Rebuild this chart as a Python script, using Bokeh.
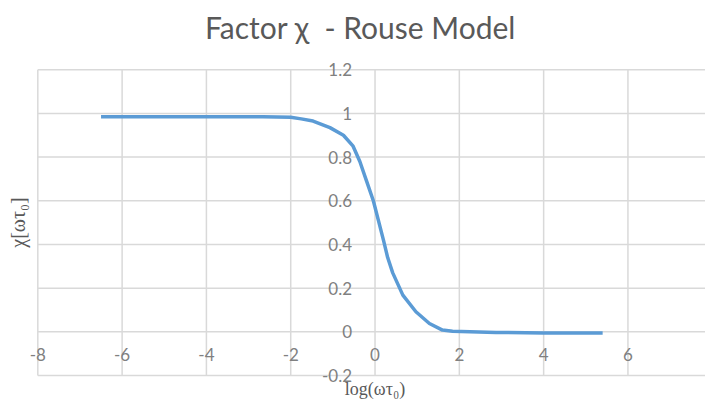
import math
from bokeh.plotting import figure
from bokeh.models import Label, FixedTicker, ColumnDataSource
from bokeh.embed import file_html
from bokeh.resources import INLINE

# data
log_wt = [-6.5, -5.5, -4.5, -3.5, -2.66, -2.0, -1.75, -1.47, -1.07, -0.75, -0.52,
          -0.36, -0.2, -0.04, 0.08, 0.2, 0.3, 0.42, 0.66, 0.97, 1.29, 1.6, 1.84,
          2.87, 4.0, 5.4]
chi = [0.985, 0.985, 0.985, 0.985, 0.985, 0.982, 0.975, 0.965, 0.935, 0.90, 0.85,
       0.78, 0.69, 0.60, 0.51, 0.42, 0.34, 0.27, 0.168, 0.092, 0.038, 0.008, 0.003,
       -0.003, -0.005, -0.005]
x_ticks = [-8, -6, -4, -2, 0, 2, 4, 6, 8]
x_tick_labels = {-8: "-8", -6: "-6", -4: "-4", -2: "-2", 0: "0", 2: "2",
                 4: "4", 6: "6", 8: "8"}
y_ticks = [-0.2, 0, 0.2, 0.4, 0.6, 0.8, 1.0, 1.2]
y_tick_labels = {-0.2: "-0.2", 0: "0", 0.2: "0.2", 0.4: "0.4", 0.6: "0.6",
                 0.8: "0.8", 1.0: "1", 1.2: "1.2"}
title_text = "Factor χ\u00a0 - Rouse Model"
x_label = "log(ωτ₀)"
y_label = "χ[ωτ₀]"

GRID = "#d9d9d9"
TXT = "#808080"
DARK = "#595959"
FONT = "Lato"

p = figure(width=705, height=407, output_backend="svg", toolbar_location=None,
           x_range=(-8.885, 7.84), y_range=(-0.3465, 1.517),
           min_border=0)
p.outline_line_color = None
p.xgrid.visible = False
p.ygrid.visible = False

# chart-area grid, bounded to the tick extents
xmin, xmax = min(x_ticks), max(x_ticks)
ymin, ymax = min(y_ticks), max(y_ticks)
p.segment(x0=x_ticks, y0=[ymin] * len(x_ticks), x1=x_ticks, y1=[ymax] * len(x_ticks),
          line_color=GRID, line_width=1.5)
p.segment(x0=[xmin] * len(y_ticks), y0=y_ticks, x1=[xmax] * len(y_ticks), y1=y_ticks,
          line_color=GRID, line_width=1.5)

for ax in (p.xaxis[0], p.yaxis[0]):
    ax.fixed_location = 0
    ax.axis_line_color = None
    ax.major_tick_line_color = None
    ax.minor_tick_line_color = None
    ax.major_label_text_font = FONT
    ax.major_label_text_font_size = "17px"
    ax.major_label_text_color = TXT

p.xaxis[0].ticker = FixedTicker(ticks=x_ticks)
p.xaxis[0].major_label_overrides = x_tick_labels
p.xaxis[0].major_label_standoff = 10
p.yaxis[0].ticker = FixedTicker(ticks=y_ticks)
p.yaxis[0].major_label_overrides = y_tick_labels
p.yaxis[0].major_label_standoff = 17

src = ColumnDataSource(dict(x=log_wt, y=chi))
p.line("x", "y", source=src, line_color="#5b9bd5", line_width=3.5,
       line_join="round")

p.add_layout(Label(x=360, y=381, x_units="screen", y_units="screen",
                   text=title_text, text_align="center", text_baseline="middle",
                   text_font=FONT, text_font_size="30px", text_color=DARK))
p.add_layout(Label(x=0, y=19, y_units="screen",
                   text=x_label, text_align="center", text_baseline="middle",
                   text_font="Liberation Serif", text_font_size="18px",
                   text_color=DARK))
p.add_layout(Label(x=17, y=185, x_units="screen", y_units="screen",
                   text=y_label, text_align="center", text_baseline="middle",
                   angle=math.pi / 2,
                   text_font="Liberation Serif", text_font_size="20px",
                   text_color=DARK))

open("out.html", "w").write(file_html(p, INLINE))
